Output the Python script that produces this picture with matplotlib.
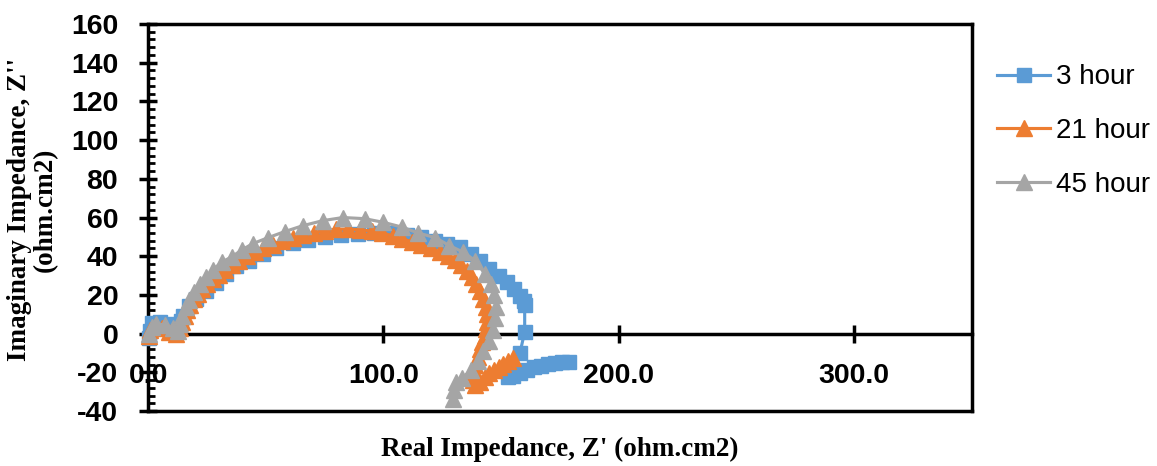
import matplotlib
matplotlib.use("Agg")
import matplotlib.pyplot as plt
from matplotlib.ticker import MultipleLocator, FormatStrFormatter

plt.rcParams["axes.unicode_minus"] = False

# series labels and colours
LABELS = ["3 hour", "21 hour", "45 hour"]
COLORS = ["#5B9BD5", "#ED7D31", "#A5A5A5"]

# 3 hour (real, imaginary)
z_re_3h = [0.3, 0.6, 1.5, 5, 9, 12, 13, 14, 15, 17.4, 20.4, 24.6, 29, 33, 37.4, 43, 49,
           54.4, 61.6, 68, 75, 82, 89, 96, 103, 110, 116, 122, 127, 132.5, 137, 141, 145,
           149, 152.5, 155.5, 158, 159.5, 160, 160, 158, 154, 153, 155, 158, 161, 164,
           167, 170, 173, 176, 179]
z_im_3h = [-2.5, 1.5, 5.5, 6, 5, 1.5, 4, 6.5, 9.3, 14.5, 18, 22, 26.4, 31, 35, 37.7, 41.3,
           44.4, 47, 48.5, 50, 51, 51.5, 52, 51.8, 51, 49.8, 48, 46.5, 44.5, 41, 37.5, 33.5,
           30, 26.5, 23, 19.5, 17, 15, 1, -10, -20, -22.5, -22, -20.5, -19, -17.5, -16.5,
           -15.5, -15, -14.5, -14.5]

# 21 hour
z_re_21h = [0.5, 1, 3, 6, 9, 12, 13.5, 14.5, 15.5, 16.5, 18, 19.5, 21, 23, 25, 27.5, 30,
            32.5, 35.5, 38.5, 42, 45.5, 49, 53, 57, 61.5, 66, 70.5, 75, 80, 85, 90, 95,
            99.5, 104, 108, 112, 116, 120, 124, 127.5, 130.5, 133, 135.5, 137.5, 139.5,
            141, 142.5, 143.5, 144, 144, 143.5, 143, 142, 141, 140, 139, 138.5, 138, 139,
            141, 143, 145, 147, 149, 151, 153, 155]
z_im_21h = [-1, 2, 4, 3, 1, 0, 3, 6, 9, 12, 15, 18, 20.5, 23, 25.5, 28, 30.5,
            33, 35.5, 37.5, 40, 42, 44, 46, 48, 49.5, 51, 52.2, 53.2, 54, 54, 53.7, 53,
            52, 50.5, 49, 47.5, 46, 44.2, 42.2, 40, 38, 35.5, 32.5, 29, 25.5,
            22, 18, 14, 10, 6, 2.5, -1, -4.5, -8, -12, -16, -20, -24, -26.5,
            -25, -22.5, -20.5, -19, -17, -15.5, -14, -12.5]

# 45 hour
z_re_45h = [0.5, 1.5, 3.5, 7, 10.5, 12.5, 13.5, 14.5, 16, 17.5, 19.5, 22, 24.5, 27.5, 31.4,
            35.7, 40, 44.5, 51, 58, 65.8, 74.3, 82.8, 92, 100, 108, 114.7, 122, 128, 134,
            139, 143, 145.5, 147, 148, 147.5, 146.5, 145, 142.5, 140, 137, 133.5, 131, 130,
            129.5]
z_im_45h = [0, 3.5, 5, 4.5, 3, 1.5, 5, 9, 13.5, 17.5, 21.7, 25.5, 29, 33, 37,
            39.8, 43.4, 46.5, 49.6, 52.7, 55.8, 58.4, 60, 59.4, 57.5, 55, 52, 49.6, 45.5, 42,
            37.7, 31, 25.5, 20, 14, 8, 2, -4, -9, -14, -19, -23, -25, -29,
            -34]

SERIES = [(z_re_3h, z_im_3h, "s", 9.5),
          (z_re_21h, z_im_21h, "^", 11),
          (z_re_45h, z_im_45h, "^", 11)]

X_TICKS = [0, 100, 200, 300]
Y_TICKS = [-40, -20, 0, 20, 40, 60, 80, 100, 120, 140, 160]

fig = plt.figure(figsize=(11.57, 4.66), dpi=100)
ax = fig.add_axes([0.128, 0.118, 0.712, 0.8305])

for (xs, ys, mk, ms), lab, col in zip(SERIES, LABELS, COLORS):
    ax.plot(xs, ys, color=col, lw=2.25, marker=mk, markersize=ms,
            markeredgecolor=col, markerfacecolor=col, label=lab,
            clip_on=False, zorder=3)

ax.set_xlim(0, 350)
ax.set_ylim(-40, 160)
ax.set_xticks(X_TICKS)
ax.set_yticks(Y_TICKS)
ax.yaxis.set_minor_locator(MultipleLocator(4))
ax.xaxis.set_major_formatter(FormatStrFormatter("%.1f"))

# x axis crosses at zero, box kept around the plot area
ax.spines["bottom"].set_position(("data", 0))
for s in ax.spines.values():
    s.set_linewidth(2.5)
ax.plot([0, 1], [0, 0], transform=ax.transAxes, color="black", lw=2.5,
        clip_on=False, zorder=2.5)

ax.tick_params(axis="x", which="major", direction="inout", length=13, width=2.5,
               pad=15, labelsize=20.5)
ax.tick_params(axis="y", which="major", direction="inout", length=13, width=2.5,
               pad=15, labelsize=20.5)
ax.tick_params(axis="y", which="minor", direction="in", length=5, width=2)
for t in ax.get_xticklabels() + ax.get_yticklabels():
    t.set_fontweight("bold")
    t.set_fontfamily("Liberation Sans")

ax.set_xlabel("Real Impedance, Z' (ohm.cm2)", fontsize=19.5, fontweight="bold",
              fontfamily="Liberation Serif", va="center")
ax.xaxis.set_label_coords(0.5, -0.1)
ax.set_ylabel("Imaginary Impedance, Z''\n(ohm.cm2)", fontsize=19.5, fontweight="bold",
              fontfamily="Liberation Serif", linespacing=1.05, va="center")
ax.yaxis.set_label_coords(-0.14, 0.52)

ax.legend(loc="upper left", bbox_to_anchor=(0.862, 0.862), bbox_transform=fig.transFigure,
          frameon=False, prop={"family": "Liberation Sans", "size": 20},
          handlelength=1.9, handletextpad=0.2, labelspacing=1.0,
          borderpad=0, borderaxespad=0)

fig.savefig("out.png", dpi=100)
